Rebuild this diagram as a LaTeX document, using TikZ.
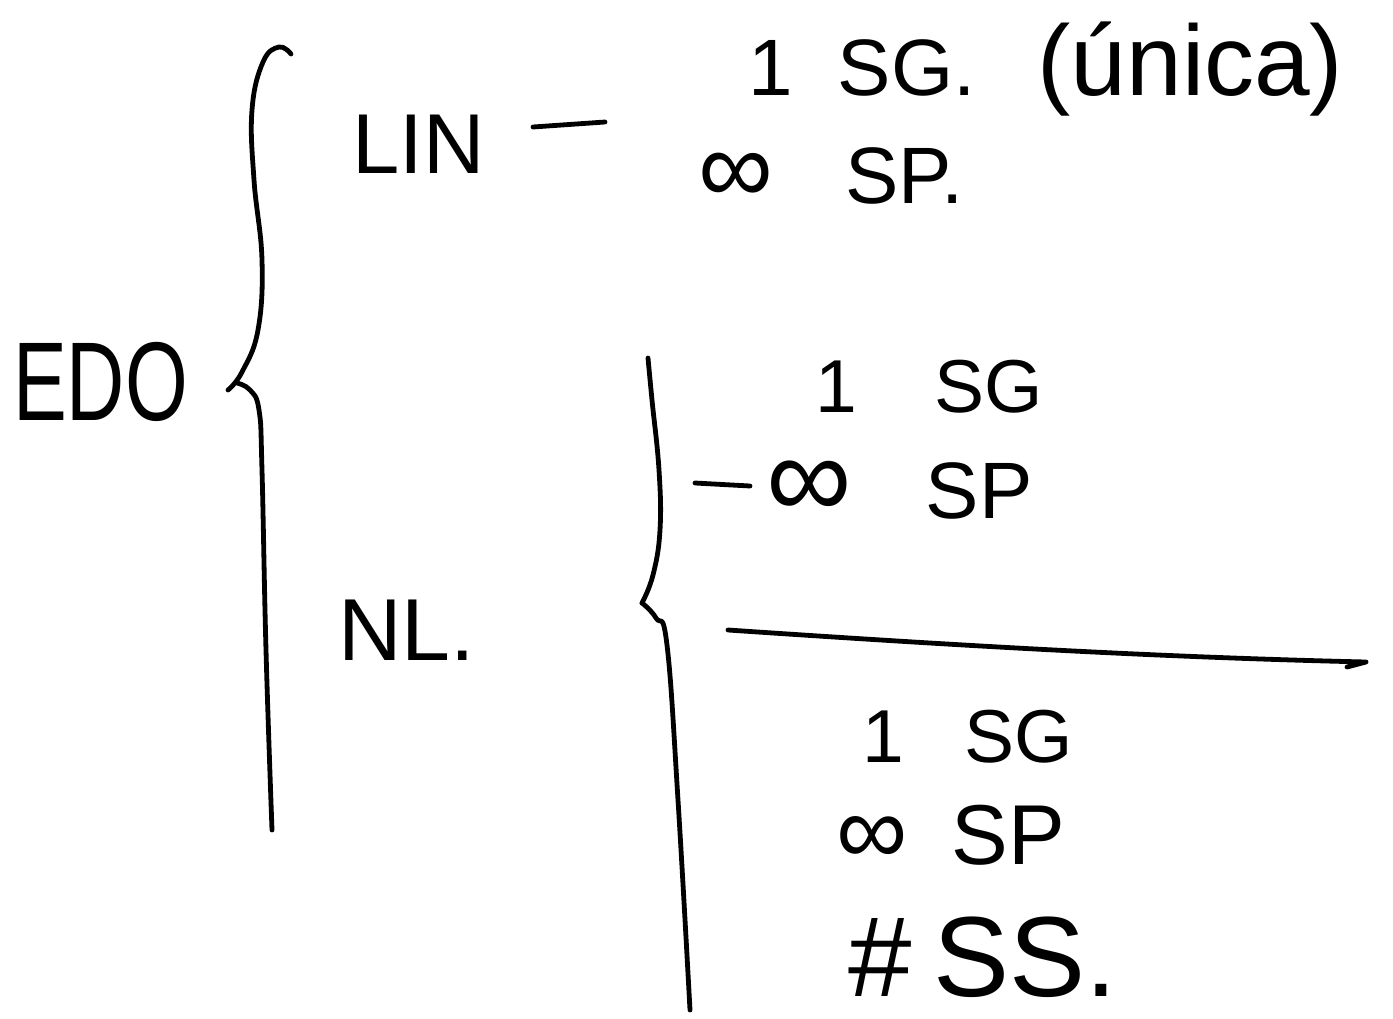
\documentclass[tikz,border=0pt]{standalone}
\usepackage{fontspec}
\setmainfont{Liberation Sans}
\usepackage{graphicx}
\tikzset{
  ink/.style={line width=4.8pt, line cap=round, line join=round, black},
  hand/.style={anchor=base west, inner sep=0pt, text depth=0pt,
    font=\fontsize{80pt}{80pt}\selectfont},
}
\newcommand{\fsz}[1]{\fontsize{#1}{#1}\selectfont}

\begin{document}
\begin{tikzpicture}[x=1pt,y=-1pt]
\useasboundingbox (0,0) rectangle (1393,1018);

% root label
\node[hand, font=\fsz{112pt}] (edo) at (13,420) {\scalebox{0.72}[1]{EDO}};

% outer brace
\draw[ink] plot[smooth, tension=0.7] coordinates
  {(291,54) (279,47) (263,62) (252,110) (254,180) (262,260) (258,330) (242,372) (228,390)};
\draw[ink] plot[smooth, tension=0.7] coordinates
  {(237,383) (250,390) (259,410) (262,470) (266,650) (272,830)};

% linear branch
\node[hand, font=\fsz{85pt}] (lin) at (352,173) {LIN};
\coordinate (linA) at (533,127);
\coordinate (linB) at (605,122);
\draw[ink] (linA) -- (linB);
\node[hand, text height=70pt] (lin1) at (748,95) {1\hspace{45pt}SG.\hspace{62pt}{\fsz{100pt}(única)}};
\node[hand, text height=60pt] (lin2) at (698,203) {{\fsz{105pt}∞}\hspace{72pt}SP.};

% nonlinear branch
\node[hand, font=\fsz{88pt}] (nl) at (338,660) {NL.};

% inner brace
\draw[ink] plot[smooth, tension=0.7] coordinates
  {(648,358) (652,400) (659,470) (660,530) (653,575) (642,603)};
\draw[ink] plot[smooth, tension=0.7] coordinates
  {(642,603) (656,618) (667,645) (678,800) (690,1010)};

% upper case of the nonlinear branch
\node[hand, font=\fsz{75pt}, text height=55pt] (nla1) at (815,412) {1\hspace{78pt}SG};
\coordinate (nlaA) at (695,483);
\coordinate (nlaB) at (750,486);
\draw[ink] (nlaA) -- (nlaB);
\node[hand, text height=60pt] (nla2) at (766,518) {{\fsz{120pt}∞}\hspace{74pt}SP};

% dividing rule
\coordinate (ruleA) at (728,630);
\coordinate (ruleB) at (1366,662);
\draw[ink] (ruleA) .. controls (950,645) and (1150,657) .. (ruleB) -- (1347,667);

% lower case of the nonlinear branch
\node[hand, font=\fsz{75pt}, text height=55pt] (nlb1) at (862,762) {1\hspace{61pt}SG};
\node[hand, font=\fsz{85pt}, text height=62pt] (nlb2) at (836,864) {{\fsz{100pt}∞}\hspace{44pt}SP};
\node[hand, font=\fsz{114pt}, text height=84pt] (nlb3) at (848,996) {\#\hspace{22pt}SS.};
\end{tikzpicture}
\end{document}
